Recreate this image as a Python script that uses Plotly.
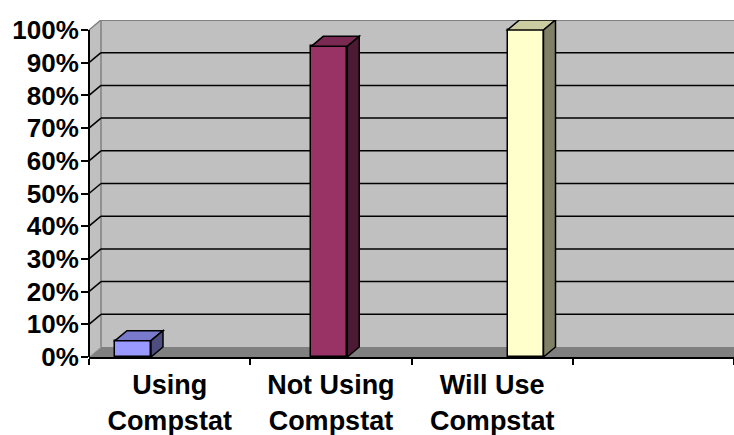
import plotly.graph_objects as go

# ---------------- data ----------------
categories = ["Using<br>Compstat", "Not Using<br>Compstat", "Will Use<br>Compstat", " "]
values = [5, 95, 100]
front_colors = ["#9999FF", "#993366", "#FFFFCC"]
top_colors = ["#7A7ACC", "#7A2952", "#CCCCA3"]
side_colors = ["#4D4D80", "#4D1A33", "#808066"]
y_ticks = [0, 10, 20, 30, 40, 50, 60, 70, 80, 90, 100]
y_tick_labels = [f"{v}%" for v in y_ticks]

# ---------------- layout geometry ----------------
W, H = 734, 435
ML, MR, MT, MB = 89, 0, 20, 78
PLOT_W = W - ML - MR
PLOT_H = H - MT - MB
DX_PX, DY_PX = 12, 10          # 3-D depth offset
Y_MAX = 100
Y_RANGE_TOP = Y_MAX * PLOT_H / (PLOT_H - DY_PX)
DY_U = DY_PX * Y_RANGE_TOP / PLOT_H      # depth in y units
DX_PAPER = DX_PX / PLOT_W                 # depth in paper units

BAR_STEP_PX = 196.25                      # bar spacing on the hidden bar axis
FIRST_BAR_PX = 44                         # first bar centre from plot left
X2_LO = -FIRST_BAR_PX / BAR_STEP_PX
X2_HI = X2_LO + PLOT_W / BAR_STEP_PX
BAR_W = 36 / BAR_STEP_PX
DX_U = DX_PX / BAR_STEP_PX

FAMILY = "Arial, Liberation Sans, sans-serif"
YFONT = dict(family=FAMILY, size=26, color="black", weight="bold")
XFONT = dict(family=FAMILY, size=27, color="black", weight="bold")
WALL = "#C0C0C0"
FLOOR = "#808080"
EDGE = "#808080"

fig = go.Figure()

# invisible trace to register the categories on the label axis
fig.add_trace(go.Scatter(x=categories, y=[0] * len(categories), mode="markers",
                         marker=dict(opacity=0), showlegend=False, hoverinfo="skip",
                         xaxis="x", yaxis="y"))

bar_x = list(range(len(values)))
fig.add_trace(go.Bar(x=bar_x, y=values, width=BAR_W, xaxis="x2", yaxis="y",
                     marker=dict(color=front_colors, line=dict(color="black", width=1.5)),
                     showlegend=False, hoverinfo="skip"))

shapes = []
# floor
shapes.append(dict(type="path", xref="paper", yref="y", layer="below",
                   path=f"M 0,0 L {DX_PAPER},{DY_U} L 1,{DY_U} L 1,0 Z",
                   fillcolor=FLOOR, line=dict(width=0)))
# back wall
shapes.append(dict(type="rect", xref="paper", yref="y", layer="below",
                   x0=DX_PAPER, x1=1, y0=DY_U, y1=Y_MAX + DY_U,
                   fillcolor=WALL, line=dict(width=0)))
# side wall
shapes.append(dict(type="path", xref="paper", yref="y", layer="below",
                   path=f"M 0,0 L 0,{Y_MAX} L {DX_PAPER},{Y_MAX + DY_U} L {DX_PAPER},{DY_U} Z",
                   fillcolor=WALL, line=dict(width=0)))
# wall edges
shapes.append(dict(type="line", xref="paper", yref="y", layer="below",
                   x0=DX_PAPER, x1=DX_PAPER, y0=DY_U, y1=Y_MAX + DY_U,
                   line=dict(color=EDGE, width=1.5)))
shapes.append(dict(type="line", xref="paper", yref="y", layer="below",
                   x0=DX_PAPER, x1=1, y0=Y_MAX + DY_U, y1=Y_MAX + DY_U,
                   line=dict(color=EDGE, width=2)))
shapes.append(dict(type="line", xref="paper", yref="y", layer="below",
                   x0=0, x1=DX_PAPER, y0=Y_MAX, y1=Y_MAX + DY_U,
                   line=dict(color=EDGE, width=1.5)))
shapes.append(dict(type="line", xref="paper", yref="y", layer="below",
                   x0=0, x1=DX_PAPER, y0=0, y1=DY_U,
                   line=dict(color="#A0A0A0", width=1)))
# gridlines
for v in y_ticks[1:-1]:
    shapes.append(dict(type="line", xref="paper", yref="y", layer="below",
                       x0=DX_PAPER, x1=1, y0=v + DY_U, y1=v + DY_U,
                       line=dict(color="black", width=1.5)))
    shapes.append(dict(type="line", xref="paper", yref="y", layer="below",
                       x0=0, x1=DX_PAPER, y0=v, y1=v + DY_U,
                       line=dict(color="black", width=1.5)))
# bar top and side faces
for i, v in enumerate(values):
    xl, xr = bar_x[i] - BAR_W / 2, bar_x[i] + BAR_W / 2
    shapes.append(dict(type="path", xref="x2", yref="y", layer="above",
                       path=f"M {xl},{v} L {xl + DX_U},{v + DY_U} L {xr + DX_U},{v + DY_U} L {xr},{v} Z",
                       fillcolor=top_colors[i], line=dict(color="black", width=1.5)))
    shapes.append(dict(type="path", xref="x2", yref="y", layer="above",
                       path=f"M {xr},0 L {xr + DX_U},{DY_U} L {xr + DX_U},{v + DY_U} L {xr},{v} Z",
                       fillcolor=side_colors[i], line=dict(color="black", width=1.5)))
# front value axis line
shapes.append(dict(type="line", xref="paper", yref="y", layer="above",
                   x0=0, x1=0, y0=0, y1=Y_MAX, line=dict(color="black", width=2)))

fig.update_layout(
    width=W, height=H,
    margin=dict(l=ML, r=MR, t=MT, b=MB, pad=0),
    paper_bgcolor="white", plot_bgcolor="rgba(0,0,0,0)",
    font=YFONT,
    shapes=shapes,
    bargap=0,
    xaxis=dict(type="category", categoryorder="array", categoryarray=categories,
               range=[-0.5, len(categories) - 0.5], tickson="boundaries",
               ticks="outside", ticklen=6, tickwidth=1.5, tickcolor="black",
               showline=True, linecolor="black", linewidth=2, showgrid=False,
               zeroline=False, tickfont=XFONT, ticklabelstandoff=3, fixedrange=True),
    xaxis2=dict(overlaying="x", range=[X2_LO, X2_HI], visible=False, fixedrange=True),
    yaxis=dict(range=[0, Y_RANGE_TOP], tickvals=y_ticks, ticktext=y_tick_labels,
               ticks="outside", ticklen=7, tickwidth=1.5, tickcolor="black",
               showline=False, showgrid=False, zeroline=False, tickfont=YFONT,
               ticklabelstandoff=-3, fixedrange=True),
)

fig.write_html("out.html")
